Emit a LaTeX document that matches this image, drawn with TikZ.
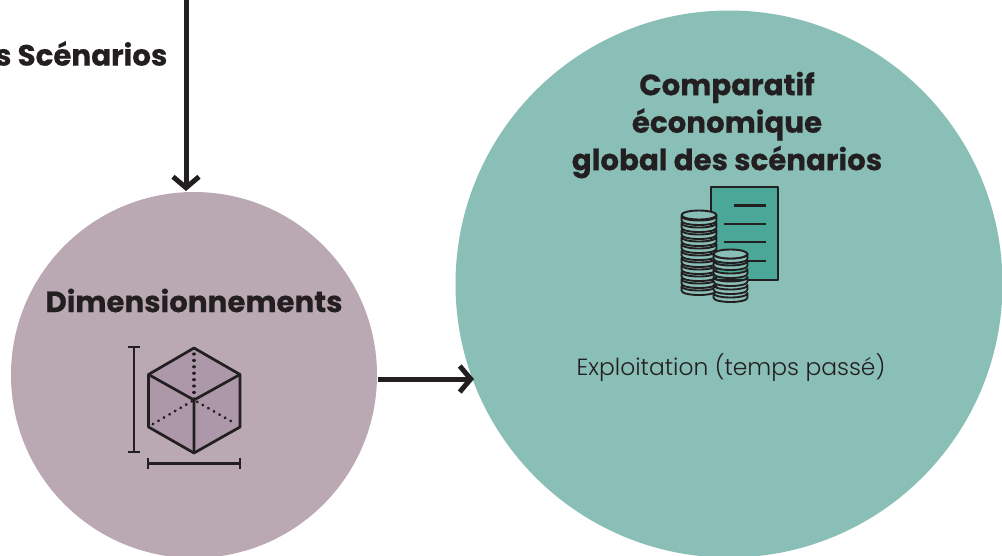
\documentclass[tikz,border=0pt]{standalone}
\usepackage{fontspec}
\setmainfont{Poppins}[BoldFeatures={FakeBold=0.5}]
\newfontfamily\lightfont{Poppins Light}
\usetikzlibrary{arrows.meta}
\definecolor{mauve}{HTML}{BAA9B3}
\definecolor{mauved}{HTML}{AD98A9}
\definecolor{teal1}{HTML}{89BFB6}
\definecolor{teal2}{HTML}{4BA899}
\definecolor{ink}{HTML}{231F20}
\tikzset{
  x=1pt,y=-1pt,
  bubble/.style={circle,draw=none,inner sep=0pt,outer sep=0pt},
  flow/.style={draw=ink,line width=5pt,-{Straight Barb[length=11pt,width=26pt,line width=5pt]}},
  head/.style={font=\bfseries\fontsize{29.3}{37.5}\selectfont,text=ink,align=center,inner sep=0pt},
  body/.style={font=\lightfont\fontsize{23.4}{30}\selectfont,text=ink,inner sep=0pt},
  icon/.style={draw=ink,line width=2.7pt,line join=round},
  coinline/.style={draw=ink,line width=1.9pt,line join=round},
  thin/.style={draw=ink,line width=2.8pt},
  dots/.style={draw=ink,line width=3.2pt,line cap=round,dash pattern=on 0.01pt off 6.4pt},
}
\newcommand{\coin}[3]{% x-centre, y, half-width
  \draw[coinline,fill=teal1] (#1-#3,#2) .. controls (#1-#3,#2+6) and (#1+#3,#2+6) .. (#1+#3,#2) -- (#1+#3,#2+4.5) .. controls (#1+#3,#2+10.5) and (#1-#3,#2+10.5) .. (#1-#3,#2+4.5) -- cycle;
}
\begin{document}
\begin{tikzpicture}
\useasboundingbox (0,0) rectangle (1002,555);
\clip (0,0) rectangle (1002,555);
\node[bubble,fill=mauve,minimum size=366pt] (dim) at (194,375) {};
\node[bubble,fill=teal1,minimum size=547pt] (comp) at (729,284) {};
\coordinate (top) at (186,-5);
\coordinate (dimtop) at (186,191);
\coordinate (dimright) at (378,379);
\coordinate (compleft) at (474,379);
\draw[flow] (top) -- (dimtop);
\draw[flow] (dimright) -- (compleft);
\node[head,anchor=east] (scen) at (167.5,53.5) {s Scénarios};
\node[head] (dimlabel) at (194,300.5) {Dimensionnements};
\node[head] (complabel) at (727,125) {Comparatif\\économique\\global des scénarios};
\node[body] (exploit) at (731,368) {Exploitation (temps passé)};
% cube
\fill[mauved] (194,348) -- (240,374.5) -- (240,427) -- (194,453) -- (148.5,427) -- (148.5,374.5) -- cycle;
\draw[dots] (194,354) -- (194,400);
\draw[dots] (153,424) -- (194,400) -- (236,424);
\draw[icon] (194,348) -- (240,374.5) -- (240,427) -- (194,453) -- (148.5,427) -- (148.5,374.5) -- cycle;
\draw[icon] (148.5,374.5) -- (194,400) -- (240,374.5) (194,400) -- (194,453);
\draw[thin] (134,347) -- (134,452) (128,347) -- (140,347) (128,452) -- (140,452);
\draw[thin] (148,463.5) -- (240,463.5) (148,458) -- (148,469) (240,458) -- (240,469);
% document
\draw[icon,fill=teal2] (711,187) rectangle (778,280);
\draw[icon] (734,205.5) -- (766,205.5) (724,224) -- (766,224) (724,242) -- (766,242) (724,261) -- (766,261);
% tall stack
\foreach \y in {286,279,272,265,258,251,244,237,230,223,216} {\coin{699}{\y}{17.5}}
\draw[coinline,fill=teal1] (699,215) ellipse (17.5 and 4.5);
% short stack
\foreach \y in {293,285,277,269,261,254} {\coin{730.5}{\y}{17}}
\draw[coinline,fill=teal1] (730.5,254) ellipse (17 and 4.5);
\end{tikzpicture}
\end{document}
